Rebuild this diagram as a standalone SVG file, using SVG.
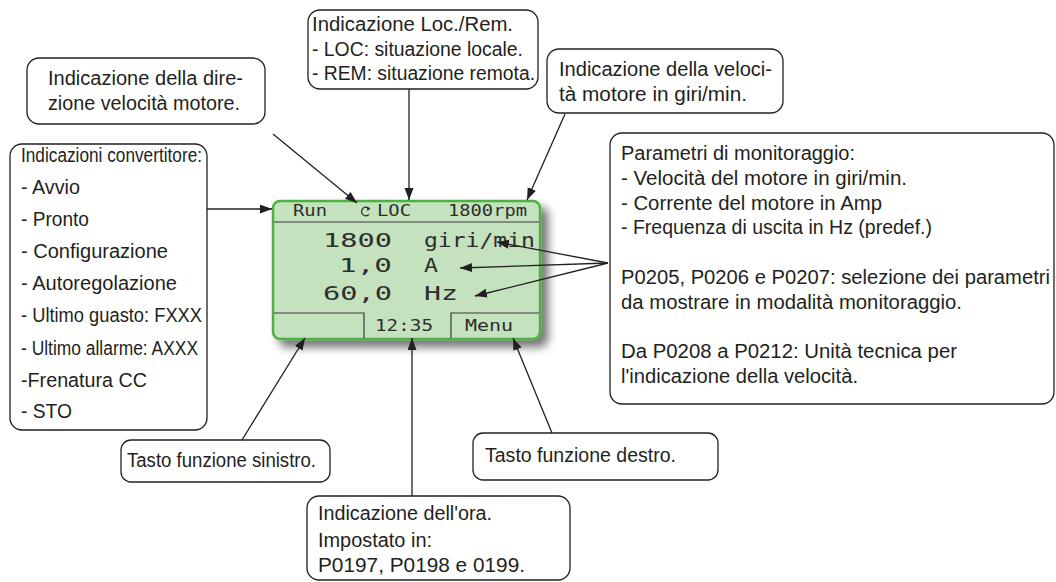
<svg xmlns="http://www.w3.org/2000/svg" width="1056" height="582" viewBox="0 0 1056 582">
<defs>
<style>
.box{fill:#fff;stroke:#231f20;stroke-width:1.3}
.t{font-family:"Liberation Sans",Arial,sans-serif;font-size:20px;fill:#231f20}
.lcdt{font-family:"DejaVu Sans Mono","Liberation Mono",monospace;fill:#2e2e2e}
.hd{font-size:15px}
.mn{font-size:19px}
.conn{stroke:#231f20;stroke-width:1.3;fill:none}
.sep{stroke:#3a3a3a;stroke-width:1.2;fill:none}
</style>
<marker id="ah" markerUnits="userSpaceOnUse" markerWidth="13" markerHeight="10" refX="12" refY="4.5" orient="auto">
<path d="M0,0 L12,4.5 L0,9 z" fill="#231f20"/>
</marker>
<filter id="sh" x="-10%" y="-10%" width="130%" height="140%">
<feGaussianBlur in="SourceAlpha" stdDeviation="5"/>
<feOffset dx="7" dy="7" result="b"/>
<feComponentTransfer><feFuncA type="linear" slope="0.55"/></feComponentTransfer>
<feMerge><feMergeNode/><feMergeNode in="SourceGraphic"/></feMerge>
</filter>
</defs>
<rect width="1056" height="582" fill="#fff"/>

<g id="lcd">
<rect x="273" y="201" width="267" height="138" rx="7" fill="#c4e2bd" stroke="#4db143" stroke-width="2.5" filter="url(#sh)"/>
<line class="sep" x1="274" y1="222" x2="539" y2="222"/>
<path class="sep" d="M274,313 H364 V338 M451,338 V313 H539"/>
<text class="lcdt hd" x="293" y="216" textLength="34" lengthAdjust="spacingAndGlyphs">Run</text>
<path d="M369,208.5 A4.3,4.3 0 1 0 369,214.5" fill="none" stroke="#2e2e2e" stroke-width="1.2"/>
<path d="M366.5,206.5 L370.5,208.5 L367.5,211 z" fill="#2e2e2e"/>
<text class="lcdt hd" x="377" y="216" textLength="34" lengthAdjust="spacingAndGlyphs">LOC</text>
<text class="lcdt hd" x="448" y="216" textLength="79" lengthAdjust="spacingAndGlyphs">1800rpm</text>
<text class="lcdt mn" x="323" y="247" textLength="69" lengthAdjust="spacingAndGlyphs">1800</text>
<text class="lcdt mn" x="424" y="247" textLength="111" lengthAdjust="spacingAndGlyphs">giri/min</text>
<text class="lcdt mn" x="339" y="272" textLength="53" lengthAdjust="spacingAndGlyphs">1,0</text>
<text class="lcdt mn" x="424" y="272" textLength="14" lengthAdjust="spacingAndGlyphs">A</text>
<text class="lcdt mn" x="323" y="300" textLength="69" lengthAdjust="spacingAndGlyphs">60,0</text>
<text class="lcdt mn" x="424" y="300" textLength="34" lengthAdjust="spacingAndGlyphs">Hz</text>
<text class="lcdt hd" x="375" y="331" textLength="58" lengthAdjust="spacingAndGlyphs">12:35</text>
<text class="lcdt hd" x="465" y="331" textLength="48" lengthAdjust="spacingAndGlyphs">Menu</text>
</g>

<g id="box-direction">
<rect class="box" x="27" y="58" width="238" height="66" rx="12"/>
<text class="t" x="48" y="85" textLength="195" lengthAdjust="spacingAndGlyphs">Indicazione della dire-</text>
<text class="t" x="48" y="110" textLength="192" lengthAdjust="spacingAndGlyphs">zione velocità motore.</text>
</g>

<g id="box-locrem">
<rect class="box" x="308" y="10" width="230" height="79" rx="12"/>
<text class="t" x="312" y="31" textLength="201" lengthAdjust="spacingAndGlyphs">Indicazione Loc./Rem.</text>
<text class="t" x="312" y="56" textLength="211" lengthAdjust="spacingAndGlyphs">- LOC: situazione locale.</text>
<text class="t" x="312" y="80" textLength="223" lengthAdjust="spacingAndGlyphs">- REM: situazione remota.</text>
</g>

<g id="box-speed">
<rect class="box" x="547" y="49" width="236" height="64" rx="12"/>
<text class="t" x="559" y="76" textLength="213" lengthAdjust="spacingAndGlyphs">Indicazione della veloci-</text>
<text class="t" x="559" y="101" textLength="188" lengthAdjust="spacingAndGlyphs">tà motore in giri/min.</text>
</g>

<g id="box-status">
<rect class="box" x="10" y="144" width="197" height="286" rx="12"/>
<text class="t" x="21" y="162" textLength="181" lengthAdjust="spacingAndGlyphs">Indicazioni convertitore:</text>
<text class="t" x="21" y="194" textLength="59" lengthAdjust="spacingAndGlyphs">- Avvio</text>
<text class="t" x="21" y="226" textLength="68" lengthAdjust="spacingAndGlyphs">- Pronto</text>
<text class="t" x="21" y="258" textLength="147" lengthAdjust="spacingAndGlyphs">- Configurazione</text>
<text class="t" x="21" y="290" textLength="156" lengthAdjust="spacingAndGlyphs">- Autoregolazione</text>
<text class="t" x="21" y="322" textLength="181" lengthAdjust="spacingAndGlyphs">- Ultimo guasto: FXXX</text>
<text class="t" x="21" y="355" textLength="177" lengthAdjust="spacingAndGlyphs">- Ultimo allarme: AXXX</text>
<text class="t" x="21" y="387" textLength="126" lengthAdjust="spacingAndGlyphs">-Frenatura CC</text>
<text class="t" x="21" y="418" textLength="51" lengthAdjust="spacingAndGlyphs">- STO</text>
</g>

<g id="box-monitor">
<rect class="box" x="610" y="133" width="444" height="271" rx="12"/>
<text class="t" x="621" y="160" textLength="234" lengthAdjust="spacingAndGlyphs">Parametri di monitoraggio:</text>
<text class="t" x="621" y="185" textLength="286" lengthAdjust="spacingAndGlyphs">- Velocità del motore in giri/min.</text>
<text class="t" x="621" y="210" textLength="261" lengthAdjust="spacingAndGlyphs">- Corrente del motore in Amp</text>
<text class="t" x="621" y="234" textLength="311" lengthAdjust="spacingAndGlyphs">- Frequenza di uscita in Hz (predef.)</text>
<text class="t" x="621" y="284" textLength="429" lengthAdjust="spacingAndGlyphs">P0205, P0206 e P0207: selezione dei parametri</text>
<text class="t" x="621" y="309" textLength="341" lengthAdjust="spacingAndGlyphs">da mostrare in modalità monitoraggio.</text>
<text class="t" x="621" y="358" textLength="336" lengthAdjust="spacingAndGlyphs">Da P0208 a P0212: Unità tecnica per</text>
<text class="t" x="621" y="383" textLength="237" lengthAdjust="spacingAndGlyphs">l'indicazione della velocità.</text>
</g>

<g id="box-left-key">
<rect class="box" x="121" y="440" width="209" height="42" rx="10"/>
<text class="t" x="127" y="467" textLength="189" lengthAdjust="spacingAndGlyphs">Tasto funzione sinistro.</text>
</g>

<g id="box-right-key">
<rect class="box" x="473" y="433" width="245" height="47" rx="10"/>
<text class="t" x="485" y="462" textLength="191" lengthAdjust="spacingAndGlyphs">Tasto funzione destro.</text>
</g>

<g id="box-clock">
<rect class="box" x="307" y="496" width="263" height="84" rx="12"/>
<text class="t" x="318" y="520" textLength="174" lengthAdjust="spacingAndGlyphs">Indicazione dell'ora.</text>
<text class="t" x="318" y="547" textLength="114" lengthAdjust="spacingAndGlyphs">Impostato in:</text>
<text class="t" x="318" y="572" textLength="207" lengthAdjust="spacingAndGlyphs">P0197, P0198 e 0199.</text>
</g>

<g id="connectors">
<line class="conn" x1="207" y1="209" x2="272" y2="209" marker-end="url(#ah)"/>
<line class="conn" x1="273" y1="134" x2="357" y2="203" marker-end="url(#ah)"/>
<line class="conn" x1="409" y1="89" x2="409" y2="200" marker-end="url(#ah)"/>
<line class="conn" x1="565" y1="114" x2="527" y2="200" marker-end="url(#ah)"/>
<line class="conn" x1="608" y1="263" x2="497" y2="242" marker-end="url(#ah)"/>
<line class="conn" x1="608" y1="263" x2="460" y2="268" marker-end="url(#ah)"/>
<line class="conn" x1="608" y1="263" x2="475" y2="296" marker-end="url(#ah)"/>
<line class="conn" x1="242" y1="440" x2="305" y2="338" marker-end="url(#ah)"/>
<line class="conn" x1="412" y1="496" x2="412" y2="338" marker-end="url(#ah)"/>
<line class="conn" x1="552" y1="433" x2="513" y2="338" marker-end="url(#ah)"/>
</g>
</svg>
